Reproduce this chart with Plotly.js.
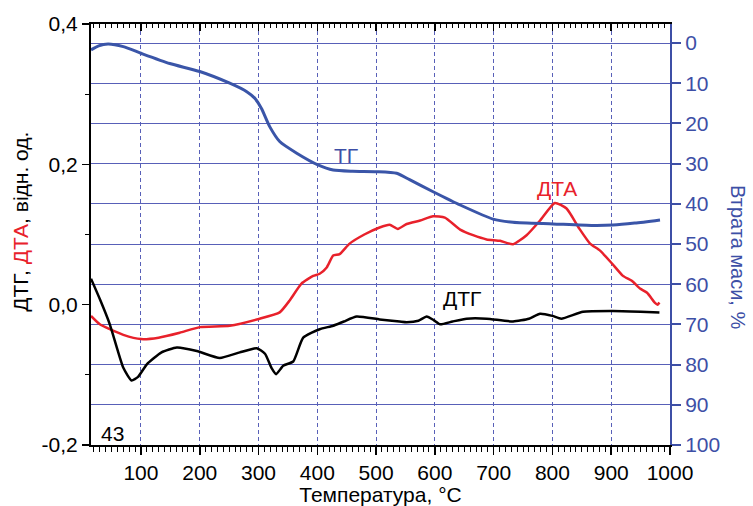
<!DOCTYPE html>
<html>
<head>
<meta charset="utf-8">
<script src="https://cdn.plot.ly/plotly-3.0.1.min.js"></script>
<style>html,body{margin:0;padding:0;background:#fff;}#chart{width:753px;height:506px;}</style>
</head>
<body>
<div id="chart"></div>
<script>
// Temperature (°C) and values
var tgT = [15, 28, 44, 70, 101, 149, 200, 251, 280, 294, 305, 319, 336, 365, 401, 427, 460, 501, 535, 557, 597, 643, 699, 733, 801, 869, 903, 940, 983];
var tgV = [1.7, 0.7, 0.25, 0.9, 2.6, 5.1, 7.1, 10.0, 12.1, 13.8, 16.3, 20.8, 24.5, 27.4, 30.3, 31.6, 31.9, 32.0, 32.4, 34.0, 37.0, 40.3, 43.8, 44.6, 45.0, 45.4, 45.3, 44.8, 44.0];

var dtaT = [15, 30, 47, 70, 100, 130, 166, 200, 251, 302, 336, 353, 373, 393, 404, 416, 427, 438, 455, 480, 506, 523, 537, 552, 575, 597, 617, 643, 665, 688, 711, 733, 756, 779, 804, 824, 846, 864, 881, 901, 920, 935, 949, 961, 974, 979, 982];
var dtaV = [-0.016, -0.028, -0.035, -0.043, -0.049, -0.047, -0.040, -0.032, -0.030, -0.020, -0.011, 0.006, 0.030, 0.041, 0.044, 0.053, 0.070, 0.072, 0.087, 0.100, 0.110, 0.114, 0.108, 0.115, 0.120, 0.126, 0.124, 0.107, 0.099, 0.093, 0.091, 0.086, 0.099, 0.120, 0.145, 0.137, 0.108, 0.087, 0.077, 0.059, 0.041, 0.034, 0.023, 0.017, 0.003, 0.0, 0.003];

var dtgT = [15, 30, 47, 70, 84, 95, 110, 135, 161, 195, 234, 268, 297, 311, 322, 330, 342, 359, 376, 404, 427, 445, 467, 506, 540, 552, 572, 586, 598, 609, 630, 654, 688, 733, 760, 779, 800, 815, 852, 903, 950, 982];
var dtgV = [0.037, 0.008, -0.028, -0.090, -0.108, -0.103, -0.085, -0.068, -0.061, -0.066, -0.076, -0.068, -0.062, -0.070, -0.090, -0.099, -0.087, -0.081, -0.047, -0.035, -0.030, -0.024, -0.017, -0.021, -0.024, -0.025, -0.023, -0.017, -0.022, -0.028, -0.024, -0.020, -0.020, -0.024, -0.020, -0.013, -0.016, -0.020, -0.010, -0.009, -0.010, -0.011];

var xTicks = [100, 200, 300, 400, 500, 600, 700, 800, 900, 1000];
var leftTickVals = [-0.2, 0.0, 0.2, 0.4];
var leftTickText = ['-0,2', '0,0', '0,2', '0,4'];
var rightTicks = [0, 10, 20, 30, 40, 50, 60, 70, 80, 90, 100];

var BLUE = '#3d4fa6';
var GRID = '#5860b8';
var RED = '#e8212b';
var FONT = 'Liberation Sans, Arial, sans-serif';
var FS = 21;

var traces = [
  {x: tgT, y: tgV, xaxis: 'x', yaxis: 'y2', mode: 'lines', line: {color: '#3a55a8', width: 3, shape: 'spline', smoothing: 0.6}, hoverinfo: 'skip'},
  {x: dtaT, y: dtaV, xaxis: 'x', yaxis: 'y', mode: 'lines', line: {color: RED, width: 2.5, shape: 'spline', smoothing: 0.5}, hoverinfo: 'skip'},
  {x: dtgT, y: dtgV, xaxis: 'x2', yaxis: 'y', mode: 'lines', line: {color: '#000', width: 2.5, shape: 'spline', smoothing: 0.5}, hoverinfo: 'skip'}
];

var xr = [15, 1000];
var layout = {
  width: 753, height: 506,
  margin: {l: 91, r: 83, t: 24, b: 61},
  paper_bgcolor: '#fff', plot_bgcolor: '#fff',
  showlegend: false,
  font: {family: FONT, size: FS, color: '#000'},
  xaxis: {
    range: xr, tickvals: xTicks, ticks: 'outside', ticklen: 8, tickwidth: 1.5, tickcolor: '#000',
    minor: {dtick: 10, tick0: 0, ticks: 'outside', ticklen: 5, tickwidth: 1, tickcolor: '#000', showgrid: false},
    showline: true, linecolor: '#000', linewidth: 2,
    showgrid: true, gridcolor: GRID, gridwidth: 1, griddash: '4px,3px',
    tickfont: {size: FS, color: '#000'}, zeroline: false,
    title: {text: 'Температура, °C', font: {size: FS, color: '#000'}, standoff: 4}
  },
  xaxis2: {
    range: xr, overlaying: 'x', side: 'top', matches: 'x',
    tickvals: xTicks, ticks: 'inside', ticklen: 7, tickwidth: 1.5, tickcolor: '#000',
    minor: {dtick: 10, tick0: 0, ticks: 'inside', ticklen: 4, tickwidth: 1, tickcolor: '#000', showgrid: false},
    showticklabels: false, showline: true, linecolor: '#000', linewidth: 2, showgrid: false, zeroline: false
  },
  yaxis: {
    range: [-0.2, 0.4], tickvals: leftTickVals, ticktext: leftTickText,
    ticks: 'outside', ticklen: 7, tickwidth: 1.5, tickcolor: '#000',
    minor: {dtick: 0.1, tick0: 0, ticks: 'outside', ticklen: 4, tickwidth: 1, tickcolor: '#000', showgrid: false},
    showline: true, linecolor: '#000', linewidth: 2, showgrid: false, zeroline: false,
    tickfont: {size: FS, color: '#000'}
  },
  yaxis2: {
    range: [100, -4.73], overlaying: 'y', side: 'right', tickvals: rightTicks,
    ticks: 'outside', ticklen: 9, tickwidth: 2, tickcolor: BLUE,
    showline: true, linecolor: BLUE, linewidth: 2,
    showgrid: true, gridcolor: GRID, gridwidth: 1, zeroline: false,
    tickfont: {size: FS, color: BLUE}
  },
  annotations: [
    {xref: 'paper', yref: 'paper', x: -0.121, y: 0.53, xanchor: 'center', yanchor: 'middle', textangle: -90, showarrow: false,
     text: 'ДТГ, <span style="color:' + RED + '">ДТА</span>, відн. од.', font: {size: FS, color: '#000'}},
    {xref: 'paper', yref: 'paper', x: 1.117, y: 0.447, xanchor: 'center', yanchor: 'middle', textangle: 90, showarrow: false,
     text: 'Втрата маси, %', font: {size: 20, color: BLUE}},
    {xref: 'x', yref: 'y2', x: 449, y: 27.9, showarrow: false, text: 'ТГ', font: {size: FS, color: BLUE}},
    {xref: 'x', yref: 'y', x: 808, y: 0.166, showarrow: false, text: 'ДТА', font: {size: FS, color: RED}},
    {xref: 'x', yref: 'y', x: 646, y: 0.009, showarrow: false, text: 'ДТГ', font: {size: FS, color: '#000'}},
    {xref: 'x', yref: 'y', x: 51, y: -0.184, showarrow: false, text: '43', font: {size: FS, color: '#000'}}
  ]
};

Plotly.newPlot('chart', traces, layout, {staticPlot: true, displayModeBar: false});
</script>
</body>
</html>
